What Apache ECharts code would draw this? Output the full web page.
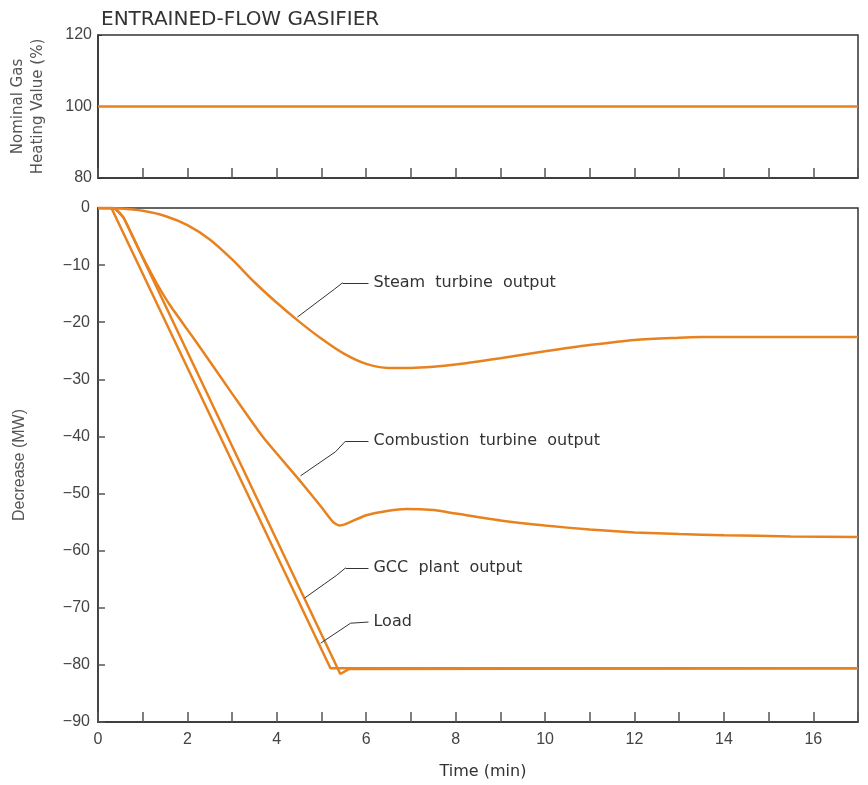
<!DOCTYPE html>
<html><head><meta charset="utf-8">
<script src="https://cdn.jsdelivr.net/npm/echarts@6/dist/echarts.min.js"></script>
<style>html,body{margin:0;padding:0;background:#fff}#c{width:868px;height:785px}</style>
</head><body><div id="c"></div>
<script>
// ---- data ----
const chartTitle = 'ENTRAINED-FLOW GASIFIER';
const heatingValue = [[0, 100], [17, 100]];
const steamTurbine = [[0,0],[0.5,-0.1],[1,-0.5],[1.5,-1.4],[2,-3.0],[2.5,-5.5],[3,-9.0],[3.5,-13.0],[4,-16.6],[4.5,-19.9],[5,-22.9],[5.5,-25.5],[6,-27.3],[6.5,-28.0],[7,-28.0],[7.5,-27.8],[8,-27.4],[9,-26.3],[10,-25.1],[11,-24.0],[12,-23.1],[13,-22.7],[13.5,-22.6],[17,-22.6]];
const combustionTurbine = [[0,0],[0.35,0],[0.45,-0.6],[0.58,-1.8],[1.0,-8.6],[1.3,-13.0],[1.6,-16.9],[2.0,-21.3],[2.3,-24.6],[3.0,-32.5],[3.7,-40.2],[4.5,-47.6],[5.0,-52.4],[5.25,-54.9],[5.4,-55.6],[5.55,-55.3],[6.0,-53.8],[6.5,-53.0],[6.9,-52.7],[7.5,-52.9],[8,-53.5],[9,-54.7],[10,-55.6],[11,-56.3],[12,-56.8],[13,-57.1],[14,-57.3],[15.5,-57.5],[17,-57.6]];
const gccPlantOutput = [[0,0],[0.35,0],[0.45,-0.6],[0.58,-1.8],[5.42,-81.6],[5.62,-80.7],[17,-80.6]];
const loadDemand = [[0,0],[0.3,0],[5.2,-80.6],[17,-80.6]];
const seriesNames = ['Steam  turbine  output', 'Combustion  turbine  output', 'GCC  plant  output', 'Load'];
// leader-line anchor points in data units [time, MW]
const steamLeader = [[4.46,-19.1],[5.29,-14.2],[5.47,-13.1],[6.05,-13.1]];
const combustionLeader = [[4.53,-46.9],[5.31,-42.7],[5.54,-40.8],[6.05,-40.8]];
const gccLeader = [[4.62,-68.3],[5.34,-64.3],[5.54,-63.0],[6.05,-63.0]];
const loadLeader = [[4.98,-76.2],[5.65,-72.7],[6.05,-72.5]];

// ---- chart ----
const ORANGE = '#E8821E';
const TXT = '#333';
const FONT = 'Liberation Sans';
const WIDE = 'DejaVu Sans';
const minus = v => String(v).replace('-', '\u2212');

function leaderMarks(points, text) {
  const data = [];
  for (let i = 0; i < points.length - 1; i++) {
    const last = i === points.length - 2;
    data.push([
      { coord: points[i], label: last ? { show: true, formatter: text, position: 'end', distance: 5, color: TXT, fontSize: 16, fontFamily: WIDE } : { show: false } },
      { coord: points[i + 1] }
    ]);
  }
  return { silent: true, symbol: ['none', 'none'], lineStyle: { color: '#333', width: 1, type: 'solid' }, data, animation: false };
}

const chart = echarts.init(document.getElementById('c'));
chart.setOption({
  animation: false,
  backgroundColor: '#fff',
  title: { text: chartTitle, left: 96, top: 5, textStyle: { fontSize: 20, fontWeight: 'normal', color: TXT, fontFamily: WIDE } },
  grid: [
    { left: 98, right: 10, top: 35, height: 143, show: true, borderColor: '#333', borderWidth: 1.5 },
    { left: 98, right: 10, top: 208, height: 514, show: true, borderColor: '#333', borderWidth: 1.5 }
  ],
  xAxis: [
    { gridIndex: 0, type: 'value', min: 0, max: 17, interval: 1,
      axisLine: { onZero: false, lineStyle: { color: '#333', width: 1.5 } },
      axisTick: { inside: true, length: 10, lineStyle: { color: '#555', width: 1.5 } },
      axisLabel: { show: false }, splitLine: { show: false } },
    { gridIndex: 1, type: 'value', min: 0, max: 17, interval: 1,
      name: 'Time (min)', nameLocation: 'middle', nameGap: 42,
      nameTextStyle: { fontSize: 16, color: TXT, fontFamily: WIDE, padding: [0, 0, 0, 10] },
      axisLine: { onZero: false, lineStyle: { color: '#333', width: 1.5 } },
      axisTick: { inside: true, length: 10, lineStyle: { color: '#555', width: 1.5 } },
      axisLabel: { fontSize: 16, color: '#444', fontFamily: FONT, margin: 10, formatter: v => (v % 2 === 0 && v < 17) ? String(v) : '' },
      splitLine: { show: false } }
  ],
  yAxis: [
    { gridIndex: 0, type: 'value', min: 80, max: 120, interval: 20,
      name: 'Nominal Gas\nHeating Value (%)', nameLocation: 'middle', nameGap: 50, nameRotate: 90,
      nameTextStyle: { fontSize: 15, color: '#555', fontFamily: WIDE, lineHeight: 20 },
      axisLine: { show: true, onZero: false, lineStyle: { color: '#333', width: 1.5 } },
      axisTick: { show: true, inside: true, length: 4, lineStyle: { color: '#333' } },
      axisLabel: { fontSize: 16, color: '#444', fontFamily: FONT, margin: 6 },
      splitLine: { show: false } },
    { gridIndex: 1, type: 'value', min: -90, max: 0, interval: 10,
      name: 'Decrease (MW)', nameLocation: 'middle', nameGap: 70, nameRotate: 90,
      nameTextStyle: { fontSize: 16, color: '#555', fontFamily: FONT },
      axisLine: { show: true, onZero: false, lineStyle: { color: '#444', width: 2 } },
      axisTick: { show: true, inside: true, length: 7, lineStyle: { color: '#555', width: 1.5 } },
      axisLabel: { fontSize: 16, color: '#444', fontFamily: FONT, margin: 8, formatter: minus },
      splitLine: { show: false } }
  ],
  series: [
    { type: 'line', xAxisIndex: 0, yAxisIndex: 0, data: heatingValue, showSymbol: false, lineStyle: { color: ORANGE, width: 2.5 } },
    { type: 'line', name: seriesNames[0], xAxisIndex: 1, yAxisIndex: 1, data: steamTurbine, showSymbol: false, smooth: 0.3,
      lineStyle: { color: ORANGE, width: 2.5 }, markLine: leaderMarks(steamLeader, seriesNames[0]) },
    { type: 'line', name: seriesNames[1], xAxisIndex: 1, yAxisIndex: 1, data: combustionTurbine, showSymbol: false, smooth: 0.2,
      lineStyle: { color: ORANGE, width: 2.5 }, markLine: leaderMarks(combustionLeader, seriesNames[1]) },
    { type: 'line', name: seriesNames[2], xAxisIndex: 1, yAxisIndex: 1, data: gccPlantOutput, showSymbol: false,
      lineStyle: { color: ORANGE, width: 2.5 }, markLine: leaderMarks(gccLeader, seriesNames[2]) },
    { type: 'line', name: seriesNames[3], xAxisIndex: 1, yAxisIndex: 1, data: loadDemand, showSymbol: false,
      lineStyle: { color: ORANGE, width: 2.5 }, markLine: leaderMarks(loadLeader, seriesNames[3]) }
  ]
});
</script></body></html>
